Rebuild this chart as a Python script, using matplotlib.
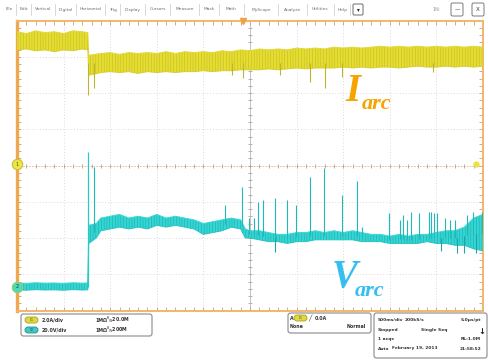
import matplotlib
matplotlib.use('Agg')
import matplotlib.pyplot as plt
from matplotlib.patches import FancyBboxPatch
import numpy as np

W, H = 488, 360

# ---------------- data (read from the screen) ----------------
# channel 1: arc current (A), 2.0 A/div ; channel 2: arc voltage (V), 20 V/div
# time in s, 500 ms/div, 10 div on screen
I_SCALE, I_OFF = 2.0, 0.04      # A/div, ground offset in div
V_SCALE, V_OFF = 20.0, -3.35    # V/div, ground offset in div

t_i = [0.0, 0.1, 0.2, 0.3, 0.4, 0.5, 0.6, 0.7, 0.76, 0.77, 0.9, 1.0, 1.1, 1.2, 1.3, 1.4,
       1.5, 1.6, 1.7, 1.8, 1.9, 2.0, 2.1, 2.2, 2.3, 2.4, 2.5, 2.6, 2.7, 2.8, 2.9, 3.0,
       3.1, 3.2, 3.3, 3.4, 3.5, 3.6, 3.7, 3.8, 3.9, 4.0, 4.1, 4.2, 4.3, 4.4, 4.5, 4.6,
       4.7, 4.8, 4.9, 5.0]
i_upper = [7.3, 7.2, 7.35, 7.25, 7.3, 7.2, 7.35, 7.3, 7.25, 6.0, 6.1, 6.15, 6.05, 6.15,
           6.1, 6.15, 6.1, 6.2, 6.1, 6.2, 6.15, 6.2, 6.15, 6.25, 6.2, 6.3, 6.25, 6.35,
           6.3, 6.35, 6.3, 6.4, 6.35, 6.4, 6.35, 6.45, 6.4, 6.45, 6.4, 6.45, 6.5, 6.45,
           6.5, 6.45, 6.5, 6.45, 6.5, 6.45, 6.5, 6.45, 6.5, 6.45]
i_lower = [6.3, 6.35, 6.25, 6.3, 6.2, 6.3, 6.25, 6.35, 6.3, 4.9, 5.05, 5.1, 5.05, 5.1,
           5.0, 5.1, 5.05, 5.1, 5.05, 5.1, 5.1, 5.15, 5.1, 5.15, 5.15, 5.2, 5.2, 5.2,
           5.25, 5.2, 5.25, 5.3, 5.25, 5.3, 5.3, 5.3, 5.35, 5.3, 5.35, 5.3, 5.35, 5.35,
           5.3, 5.35, 5.4, 5.35, 5.35, 5.4, 5.35, 5.4, 5.35, 5.4]
i_spike_t = [0.762, 0.826, 2.31, 2.42, 2.82, 3.14, 3.30, 3.49, 4.46]
i_spike_min = [3.8, 4.2, 4.9, 4.75, 4.9, 4.5, 4.2, 4.8, 5.1]

t_v = [0.0, 0.1, 0.2, 0.3, 0.4, 0.5, 0.6, 0.7, 0.76, 0.77, 0.85, 0.9, 1.0, 1.1, 1.2,
       1.3, 1.4, 1.5, 1.6, 1.7, 1.8, 1.9, 2.0, 2.1, 2.2, 2.3, 2.4, 2.45, 2.5, 2.6, 2.7,
       2.8, 2.9, 3.0, 3.1, 3.2, 3.3, 3.4, 3.5, 3.6, 3.7, 3.8, 3.9, 4.0, 4.1, 4.2, 4.3,
       4.4, 4.5, 4.6, 4.7, 4.8, 4.9, 5.0]
v_upper = [2.2, 2.0, 2.3, 2.1, 2.2, 2.0, 2.3, 2.1, 2.2, 34, 35, 38, 39, 40, 38, 39, 38,
           40, 38, 39, 38, 37, 35, 36, 37, 38, 37, 32, 31, 31, 30, 29, 29, 30, 30, 31,
           30, 31, 30, 31, 30, 29, 29, 28, 29, 28, 29, 29, 30, 31, 31, 33, 38, 40]
v_lower = [-1.6, -1.8, -1.5, -1.7, -1.6, -1.8, -1.5, -1.7, -1.6, 24, 27, 31, 32, 33, 32,
           33, 32, 34, 33, 34, 33, 32, 29, 30, 31, 33, 32, 27, 27, 26, 25, 25, 24, 25,
           25, 26, 26, 26, 26, 26, 25, 25, 25, 24, 24, 24, 24, 25, 24, 24, 23, 23, 21, 20]
v_step_t = 0.762
v_step_peak = 74.5
v_spike_t = [0.826, 2.23, 2.41, 2.49, 2.54, 2.59, 2.64, 2.77, 2.90, 2.99, 3.14, 3.29,
             3.49, 3.65, 3.70, 3.99, 4.11, 4.14, 4.18, 4.23, 4.31, 4.42, 4.44, 4.47,
             4.51, 4.59, 4.65, 4.70, 4.83, 4.89, 4.99]
v_spike_peak = [66.2, 45.2, 55.2, 38.1, 38.0, 46.9, 48.0, 49.1, 48.0, 45.2, 60.7, 65.7,
                50.8, 58.5, 33.1, 40.8, 37.0, 39.7, 37.0, 41.4, 40.8, 41.4, 41.4, 40.8,
                40.8, 38.0, 37.0, 37.0, 39.7, 41.4, 41.4]
v_dip_t = [2.77, 4.55, 4.72, 4.80, 4.92]
v_dip_min = [19.3, 20.0, 18.7, 19.0, 18.5]

# ---------------- figure ----------------
fig = plt.figure(figsize=(W / 100, H / 100), dpi=100)
fig.patch.set_facecolor('white')
plt.rcParams['hatch.linewidth'] = 0.4

ax = fig.add_axes([17 / W, (H - 310.5) / H, 466 / W, 290 / H])
ax.set_xlim(0, 5)
ax.set_ylim(-4, 4)
ax.set_facecolor('white')


def ch1(a):
    return np.asarray(a, dtype=float) / I_SCALE + I_OFF


def ch2(a):
    return np.asarray(a, dtype=float) / V_SCALE + V_OFF


# graticule
grid_kw = dict(color='#cfcfcf', lw=0.6, ls=(0, (1, 2.4)), zorder=1)
for k in range(1, 10):
    if k != 5:
        ax.axvline(k * 0.5, **grid_kw)
for k in range(-3, 4):
    if k != 0:
        ax.axhline(k, **grid_kw)
ax.axvline(2.5, color='#b8b8b8', lw=0.6, zorder=1)
ax.axhline(0, color='#d8b890', lw=0.6, ls=(0, (2, 1.5)), zorder=1)
xt = np.arange(0.1, 5.0, 0.1)
ax.plot(xt, np.zeros_like(xt), ls='none', marker='|', ms=3.2, mew=0.6,
        color='#b8a080', zorder=1)
yt = np.arange(-3.8, 4.0, 0.2)
ax.plot(np.full_like(yt, 2.5), yt, ls='none', marker='_', ms=3.2, mew=0.6,
        color='#a8a8a8', zorder=1)

for s in ['top', 'bottom', 'right']:
    ax.spines[s].set_color('#f3b56c')
    ax.spines[s].set_linewidth(1.4)
ax.spines['left'].set_color('#f0a850')
ax.spines['left'].set_linewidth(2.4)
ax.set_xticks(np.arange(0, 5.01, 0.1))
ax.set_yticks(np.arange(-4, 4.01, 0.2))
ax.tick_params(direction='in', length=2.8, width=0.6, color='#c8a070',
               top=True, right=True, labelbottom=False, labelleft=False)

# channel 1 (current)
ax.fill_between(t_i, ch1(i_lower), ch1(i_upper), facecolor='#e6de2e',
                edgecolor='#c2ba30', hatch='||||||', lw=0, zorder=3)
ax.plot(t_i, ch1(i_upper), color='#e2da3a', lw=0.7, zorder=3)
ax.plot(t_i, ch1(i_lower), color='#d6ce30', lw=0.7, zorder=3)
ax.vlines(i_spike_t, ch1(i_spike_min), ch1(5.6), color='#bdb52a', lw=0.8, zorder=3)

# channel 2 (voltage)
ax.fill_between(t_v, ch2(v_lower), ch2(v_upper), facecolor='#34d6d4',
                edgecolor='#1eadac', hatch='||||||', lw=0, zorder=4)
ax.plot(t_v, ch2(v_upper), color='#3cd8d6', lw=0.7, zorder=4)
ax.plot(t_v, ch2(v_lower), color='#28c4c2', lw=0.7, zorder=4)
ax.vlines([v_step_t], ch2(0), ch2(v_step_peak), color='#2cc8c8', lw=0.9, zorder=4)
v_mid = (np.asarray(v_upper) + np.asarray(v_lower)) / 2
spk_base = np.interp(v_spike_t, t_v, v_mid)
ax.vlines(v_spike_t, ch2(spk_base), ch2(v_spike_peak), color='#22b8b8', lw=0.8, zorder=4)
dip_base = np.interp(v_dip_t, t_v, v_mid)
ax.vlines(v_dip_t, ch2(v_dip_min), ch2(dip_base), color='#1aa6a6', lw=0.8, zorder=4)

# channel / trigger markers
ax.plot([0], ch1([0]), 'o', ms=7.5, mfc='#ece64a', mec='#c8be30', mew=0.8,
        clip_on=False, zorder=6)
ax.text(0, ch1(0), '1', fontsize=3.5, ha='center', va='center', color='#555500', zorder=7,
        clip_on=False)
ax.plot([0], ch2([0]), 'o', ms=7.5, mfc='#4ad8c0', mec='#9ad060', mew=0.8,
        clip_on=False, zorder=6)
ax.text(0, ch2(0), '2', fontsize=3.5, ha='center', va='center', color='#004444', zorder=7,
        clip_on=False)
ax.plot([2.43], [4], 'v', ms=4.5, color='#f0a040', clip_on=False, zorder=6)
ax.plot([4.93], ch1([0]), 'o', ms=3.5, color='#eee040', clip_on=False, zorder=6)

# labels
ax.text(3.52, ch1(3.5), 'I', fontsize=28, color='#f7a400', fontweight='bold',
        fontstyle='italic', family='Liberation Serif', zorder=8)
ax.text(3.7, ch1(3.05), 'arc', fontsize=16, color='#f7a400', fontweight='bold',
        fontstyle='italic', family='Liberation Serif', zorder=8)
ax.text(3.38, ch2(-0.3), 'V', fontsize=28, color='#35bff0', fontweight='bold',
        fontstyle='italic', family='Liberation Serif', zorder=8)
ax.text(3.62, ch2(-4.8), 'arc', fontsize=16, color='#35bff0', fontweight='bold',
        fontstyle='italic', family='Liberation Serif', zorder=8)

# ---------------- overlay chrome (pixel coordinates) ----------------
ov = fig.add_axes([0, 0, 1, 1], zorder=10)
ov.set_xlim(0, W)
ov.set_ylim(H, 0)
ov.axis('off')
ov.patch.set_alpha(0)

menu = [('File', 9), ('Edit', 23.5), ('Vertical', 43), ('Digital', 65.5),
        ('Horizontal', 90.5), ('Trig', 113), ('Display', 132.5), ('Cursors', 157.5),
        ('Measure', 184.5), ('Mask', 209), ('Math', 231), ('MyScope', 261),
        ('Analyze', 293), ('Utilities', 320), ('Help', 342.5)]
for name, xc in menu:
    ov.text(xc, 9.5, name, fontsize=3.2, ha='center', va='center', color='#707070')
for xs in [16, 31, 55, 76, 105, 120, 145, 170, 199, 219, 244, 278, 307, 334, 350]:
    ov.plot([xs, xs], [4, 15], color='#c8c8c8', lw=0.5)


def rbox(x0, y0, x1, y1, ec='#8a8a8a', fc='white', lw=0.8, r=2.5):
    ov.add_patch(FancyBboxPatch((x0, y0), x1 - x0, y1 - y0,
                                boxstyle=f'round,pad=0,rounding_size={r}',
                                ec=ec, fc=fc, lw=lw))


rbox(353, 4, 363, 15, ec='#555555', lw=0.6, r=1)
ov.text(358, 10, '▾', fontsize=4, ha='center', va='center', color='#222222')
ov.text(436, 9.5, 'Tek', fontsize=4, ha='center', va='center', color='#999999',
        fontstyle='italic', family='Liberation Serif')
rbox(451, 3, 463, 16, ec='#666666', lw=0.6, r=1.5)
ov.text(457, 10, '—', fontsize=4, ha='center', va='center', color='#222222')
rbox(472, 3, 484, 16, ec='#666666', lw=0.6, r=1.5)
ov.text(478, 9.5, 'X', fontsize=4, ha='center', va='center', color='#333333')


def pill(x, y, fc, ec, label):
    rbox(x, y - 3, x + 13, y + 3, ec=ec, fc=fc, lw=0.6, r=3)
    ov.text(x + 6.5, y, label, fontsize=2.2, ha='center', va='center', color='#333333')


st = dict(fontsize=3.4, va='center', color='#333333', fontweight='bold')
rbox(21, 314, 152, 336)
pill(25, 320, '#e0d840', '#a8a020', 'C1')
pill(25, 330, '#40c8c8', '#209090', 'C2')
ov.text(42, 320, '2.0A/div', **st)
ov.text(42, 330, '20.0V/div', **st)
ov.text(95, 320, '1MΩ', **st)
ov.text(95, 330, '1MΩ', **st)
ov.text(106, 320, r'$^{\mathsf{B}}{}_{\mathsf{W}}$20.0M', **st)
ov.text(106, 330, r'$^{\mathsf{B}}{}_{\mathsf{W}}$200M', **st)

rbox(288, 313, 371, 333)
ov.text(290, 318, 'A', **st)
pill(294, 318, '#e0d840', '#a8a020', 'C1')
ov.text(308, 318, '╱', fontsize=4, va='center', color='#222222')
ov.text(315, 318, '0.0A', **st)
ov.text(290, 326, 'None', **st)
ov.text(366, 326, 'Normal', ha='right', **st)

st3 = dict(st, fontsize=3.2)
rbox(374, 313, 487, 358)
ov.text(378, 320, '500ms/div', **st3)
ov.text(405, 320, '200kS/s', **st3)
ov.text(481, 320, '5.0μs/pt', ha='right', **st3)
ov.text(378, 329.5, 'Stopped', **st3)
ov.text(421, 329.5, 'Single Seq', **st3)
ov.text(482, 331, '↓', fontsize=6, ha='center', va='center', color='#222222',
        fontweight='bold')
ov.text(378, 339, '1 acqs', **st3)
ov.text(481, 339, 'RL:1.0M', ha='right', **st3)
ov.text(378, 348.5, 'Auto', **st3)
ov.text(392, 348.5, 'February 19, 2013', **st3)
ov.text(481, 348.5, '21:58:52', ha='right', **st3)

fig.savefig('out.png', dpi=100, facecolor='white')
